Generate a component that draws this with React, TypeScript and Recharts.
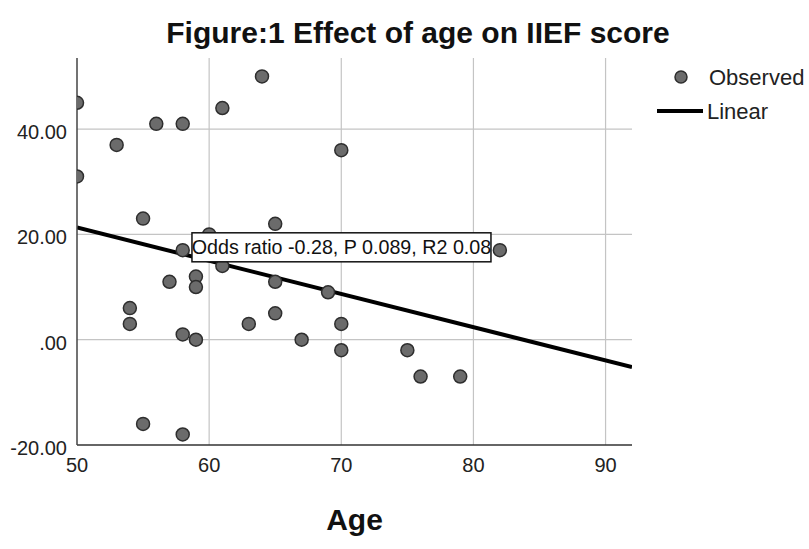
import {
  ComposedChart,
  Scatter,
  Line,
  XAxis,
  YAxis,
  ReferenceLine,
  ReferenceDot,
  Label,
} from 'recharts';

const FONT = "'Liberation Sans', Arial, sans-serif";

// observed points (age, IIEF change)
const ages = [50, 50, 53, 56, 58, 61, 64, 70, 55, 65, 60, 58, 82, 61, 59, 57, 65, 59, 69, 54, 65, 54, 63, 70, 58, 59, 67, 70, 75, 76, 79, 55, 58];
const scores = [45, 31, 37, 41, 41, 44, 50, 36, 23, 22, 20, 17, 17, 14, 12, 11, 11, 10, 9, 6, 5, 3, 3, 3, 1, 0, 0, -2, -2, -7, -7, -16, -18];

// fitted linear line, read at both ends of the x range
const fitAges = [50, 92];
const fitScores = [21.3, -5.2];

const xTicks = [50, 60, 70, 80, 90];
const yTicks = [-20, 0, 20, 40];
const xGrid = [60, 70, 80, 90];
const yGrid = [0, 20, 40];

const annotation = 'Odds ratio -0.28, P 0.089, R2 0.08';
const annotationAt = { age: 58.7, score: 20.3 };

const observed = ages.map((age, i) => ({ age, score: scores[i] }));
const fitted = fitAges.map((age, i) => ({ age, fit: fitScores[i] }));

const GRID = '#c4c4c4';

function fmtY(v: number): string {
  return v === 0 ? '.00' : v.toFixed(2);
}

function XTick({ x, y, payload }: any) {
  return (
    <text x={x} y={y + 27} textAnchor="middle" fontFamily={FONT} fontSize={20} fill="#222">
      {payload.value}
    </text>
  );
}

function YTick({ x, y, payload }: any) {
  return (
    <text x={x} y={y + 10} textAnchor="end" fontFamily={FONT} fontSize={20} fill="#222">
      {fmtY(payload.value)}
    </text>
  );
}

function Dot(props: any) {
  const { cx, cy } = props;
  if (cx == null || cy == null) return null;
  return <circle cx={cx} cy={cy} r={6.5} fill="#6b6b6b" stroke="#2e2e2e" strokeWidth={1.5} />;
}

function AnnotationBox(props: any) {
  const { viewBox } = props;
  if (!viewBox) return null;
  const x = viewBox.x;
  const y = viewBox.y;
  return (
    <g>
      <rect x={x} y={y} width={299} height={29} fill="#fff" stroke="#111" strokeWidth={1.5} />
      <text x={x + 149.5} y={y + 21} textAnchor="middle" fontFamily={FONT} fontSize={19.7} fill="#111">
        {annotation}
      </text>
    </g>
  );
}

export default function App() {
  return (
    <div style={{ position: 'absolute', left: 0, top: 0, width: 809, height: 549, background: '#fff' }}>
      <ComposedChart
        width={809}
        height={549}
        margin={{ top: 58, right: 177, bottom: 0, left: 0 }}
        style={{ fontFamily: FONT }}
      >
        <XAxis
          type="number"
          dataKey="age"
          domain={[50, 92]}
          ticks={xTicks}
          height={104}
          tickLine={false}
          tickSize={0}
          tickMargin={0}
          axisLine={{ stroke: '#333', strokeWidth: 1.5 }}
          tick={<XTick />}
          allowDataOverflow
        >
          <Label
            value="Age"
            position="insideBottom"
            offset={19}
            style={{ fontFamily: FONT, fontSize: 30, fontWeight: 'bold', fill: '#111' }}
          />
        </XAxis>
        <YAxis
          type="number"
          domain={[-20, 53.5]}
          ticks={yTicks}
          width={77}
          tickLine={false}
          tickSize={0}
          tickMargin={10}
          axisLine={{ stroke: '#444', strokeWidth: 1.5 }}
          tick={<YTick />}
          allowDataOverflow
        />
        {xGrid.map((v) => (
          <ReferenceLine key={`x${v}`} x={v} stroke={GRID} strokeWidth={1.2} />
        ))}
        {yGrid.map((v) => (
          <ReferenceLine key={`y${v}`} y={v} stroke={GRID} strokeWidth={1.2} />
        ))}
        <Line
          data={fitted}
          dataKey="fit"
          stroke="#000"
          strokeWidth={4}
          dot={false}
          isAnimationActive={false}
        />
        <Scatter data={observed} dataKey="score" shape={<Dot />} isAnimationActive={false} />
        <ReferenceDot
          x={annotationAt.age}
          y={annotationAt.score}
          r={0}
          fill="none"
          stroke="none"
          label={<AnnotationBox />}
        />
      </ComposedChart>
      <svg width={809} height={549} style={{ position: 'absolute', left: 0, top: 0, pointerEvents: 'none' }}>
        <text x={418} y={43} textAnchor="middle" fontFamily={FONT} fontWeight="bold" fontSize={30} fill="#111">
          Figure:1 Effect of age on IIEF score
        </text>
        <circle cx={681} cy={77} r={6} fill="#6b6b6b" stroke="#2e2e2e" strokeWidth={1.5} />
        <text x={709} y={85} fontFamily={FONT} fontSize={22} fill="#222">Observed</text>
        <line x1={657} x2={703} y1={111} y2={111} stroke="#000" strokeWidth={4} />
        <text x={707} y={119} fontFamily={FONT} fontSize={22} fill="#222">Linear</text>
      </svg>
    </div>
  );
}
